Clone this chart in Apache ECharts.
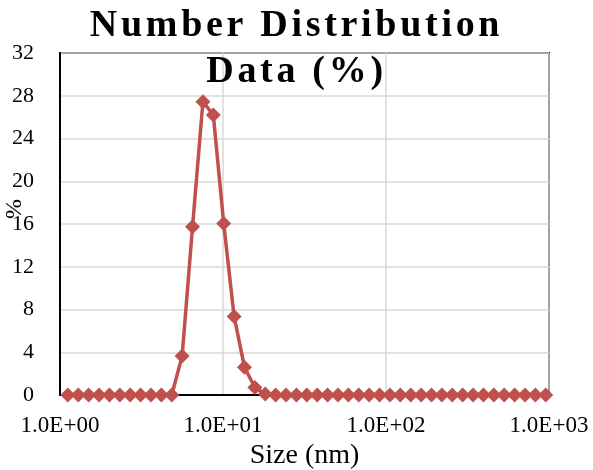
<!DOCTYPE html>
<html>
<head>
<meta charset="utf-8">
<script src="https://cdn.jsdelivr.net/npm/echarts@6/dist/echarts.min.js"></script>
<style>html,body{margin:0;padding:0;background:#fff;}#c{width:593px;height:470px;}</style>
</head>
<body>
<div id="c"></div>
<script>
// Size bins (nm), log spaced
const sizes = [1.117, 1.294, 1.499, 1.736, 2.01, 2.328, 2.696, 3.122, 3.615, 4.187, 4.849,
  5.615, 6.503, 7.531, 8.721, 10.1, 11.7, 13.54, 15.69, 18.17, 21.04, 24.36, 28.21, 32.67,
  37.84, 43.82, 50.75, 58.77, 68.06, 78.82, 91.28, 105.7, 122.4, 141.8, 164.2, 190.1, 220.2,
  255, 295.3, 342, 396.1, 458.7, 531.2, 615.1, 712.4, 825, 955.4];
// Number distribution (%)
const numberPct = [0, 0, 0, 0, 0, 0, 0, 0, 0, 0, 0,
  3.65, 15.75, 27.45, 26.2, 16.05, 7.35, 2.6, 0.7, 0.1, 0, 0, 0, 0,
  0, 0, 0, 0, 0, 0, 0, 0, 0, 0, 0, 0, 0,
  0, 0, 0, 0, 0, 0, 0, 0, 0, 0];
const yTicks = [0, 4, 8, 12, 16, 20, 24, 28, 32];
const titleLines = ['Number Distribution', 'Data (%)'];

// widen the title's letter spacing like the original (canvas letterSpacing)
(function () {
  const P = CanvasRenderingContext2D.prototype;
  const orig = P.fillText;
  P.fillText = function (txt, x, y, w) {
    if (titleLines.indexOf(String(txt)) >= 0 && 'letterSpacing' in this) {
      const prev = this.letterSpacing;
      this.letterSpacing = '3.7px';
      const r = w === undefined ? orig.call(this, txt, x, y) : orig.call(this, txt, x, y, w);
      this.letterSpacing = prev;
      return r;
    }
    return w === undefined ? orig.call(this, txt, x, y) : orig.call(this, txt, x, y, w);
  };
})();

const font = 'Liberation Serif';
const chart = echarts.init(document.getElementById('c'));
chart.setOption({
  animation: false,
  title: {
    text: titleLines.join('\n'),
    left: 'center',
    top: -2,
    textStyle: { fontFamily: font, fontWeight: 'bold', fontSize: 38, lineHeight: 46, color: '#000' }
  },
  grid: { left: 60, right: 44, top: 53, bottom: 75, show: true, borderColor: '#000', borderWidth: 2,
          containLabel: false, outerBoundsMode: 'none' },
  xAxis: {
    type: 'log', logBase: 10, min: 1, max: 1000,
    name: 'Size (nm)', nameLocation: 'middle', nameGap: 47, nameMoveOverlap: false,
    nameTextStyle: { fontFamily: font, fontSize: 28, color: '#000' },
    axisLine: { show: true, lineStyle: { color: '#000', width: 2 } },
    axisTick: { show: false },
    minorTick: { show: false },
    splitLine: { show: true, lineStyle: { color: '#d9d9d9', width: 1.5 } },
    axisLabel: {
      fontFamily: font, fontSize: 23, color: '#000', margin: 19,
      formatter: v => { const e = Math.round(Math.log10(v)); return '1.0E+' + (e < 10 ? '0' + e : e); }
    }
  },
  yAxis: {
    type: 'value', min: yTicks[0], max: yTicks[yTicks.length - 1], interval: 4,
    name: '%', nameLocation: 'middle', nameGap: 33, nameRotate: 90, nameMoveOverlap: false,
    nameTextStyle: { fontFamily: font, fontSize: 24, color: '#000', padding: [0, 0, 0, 30] },
    axisLine: { show: true, lineStyle: { color: '#000', width: 2 } },
    axisTick: { show: false },
    splitLine: { show: true, lineStyle: { color: '#d9d9d9', width: 1.5 } },
    axisLabel: { fontFamily: font, fontSize: 22, color: '#000', margin: 26 }
  },
  series: [{
    type: 'line',
    data: sizes.map((s, i) => [s, numberPct[i]]),
    symbol: 'diamond', symbolSize: 15,
    lineStyle: { color: '#c0504d', width: 3.5 },
    itemStyle: { color: '#c0504d' },
    clip: false
  }]
});
</script>
</body>
</html>
